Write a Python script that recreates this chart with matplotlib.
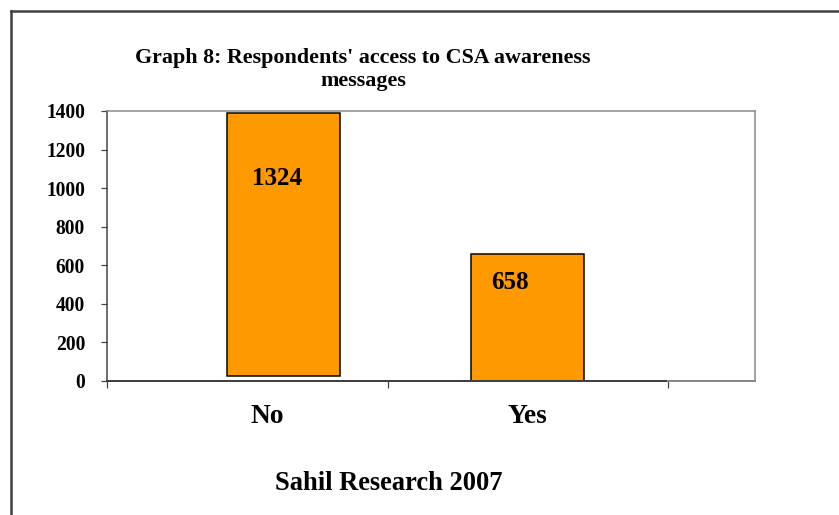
import matplotlib
matplotlib.use("Agg")
import matplotlib.pyplot as plt
from matplotlib.lines import Line2D

categories = ["No", "Yes"]
bar_positions = [0.13, 1.0]
bar_bottoms = [25, 0]
bar_tops = [1390, 658]
bar_labels = ["1324", "658"]
label_positions_x = [0.106, 0.937]
label_positions_y = [1052, 513]
cat_label_x = [0.07, 1.0]
y_ticks = [0, 200, 400, 600, 800, 1000, 1200, 1400]
title = "Graph 8: Respondents' access to CSA awareness\nmessages"
source = "Sahil Research 2007"

plt.rcParams['font.family'] = ['Liberation Serif', 'DejaVu Serif']
plt.rcParams['font.weight'] = 'bold'

W, H = 839, 515
fig = plt.figure(figsize=(W / 72, H / 72), dpi=72)
ax = fig.add_axes([107 / W, 1 - 381 / H, (755 - 107) / W, (381 - 111) / H])

heights = [t - b for t, b in zip(bar_tops, bar_bottoms)]
ax.bar(bar_positions, heights, bottom=bar_bottoms, width=0.404,
       color="#FF9900", edgecolor="black", linewidth=1.5, zorder=3)

for x, y, s in zip(label_positions_x, label_positions_y, bar_labels):
    ax.text(x, y, s, ha="center", va="center", fontsize=25, fontweight="bold", zorder=4)

ax.set_xlim(-0.5, 1.81)
ax.set_ylim(0, 1400)
ax.set_yticks(y_ticks)
ax.set_yticklabels([str(v) for v in y_ticks], fontsize=19.5, fontweight="bold")
ax.tick_params(axis="y", direction="out", length=6, width=1.2, color="#404040", pad=16)

ax.set_xticks(cat_label_x)
ax.set_xticklabels(categories, fontsize=27.5, fontweight="bold")
ax.tick_params(axis="x", which="major", length=0, pad=23)
ax.set_xticks([-0.5, 0.5, 1.5], minor=True)
ax.tick_params(axis="x", which="minor", direction="out", length=7, width=1.2, color="#404040")

for s in ["top", "right"]:
    ax.spines[s].set_color("#888888")
    ax.spines[s].set_linewidth(1.5)
ax.spines["left"].set_color("#404040")
ax.spines["left"].set_linewidth(1.5)
ax.spines["bottom"].set_visible(False)
ax.plot([-0.5, 1.5], [0, 0], color="#404040", lw=2, clip_on=False, zorder=5)
ax.plot([1.5, 1.81], [0, 0], color="#888888", lw=2, clip_on=False, zorder=5)

fig.text(363 / W, 1 - 70 / H, title, ha="center", va="center", fontsize=22,
         fontweight="bold", linespacing=1.2)
fig.text(389 / W, 1 - 483 / H, source, ha="center", va="center", fontsize=26.5, fontweight="bold")

fig.add_artist(Line2D([11 / W, 11 / W], [0, 1 - 11 / H], color="#404040", lw=2.5, transform=fig.transFigure))
fig.add_artist(Line2D([11 / W, 1], [1 - 11 / H, 1 - 11 / H], color="#404040", lw=2.5, transform=fig.transFigure))

fig.savefig("out.png", dpi=72)
